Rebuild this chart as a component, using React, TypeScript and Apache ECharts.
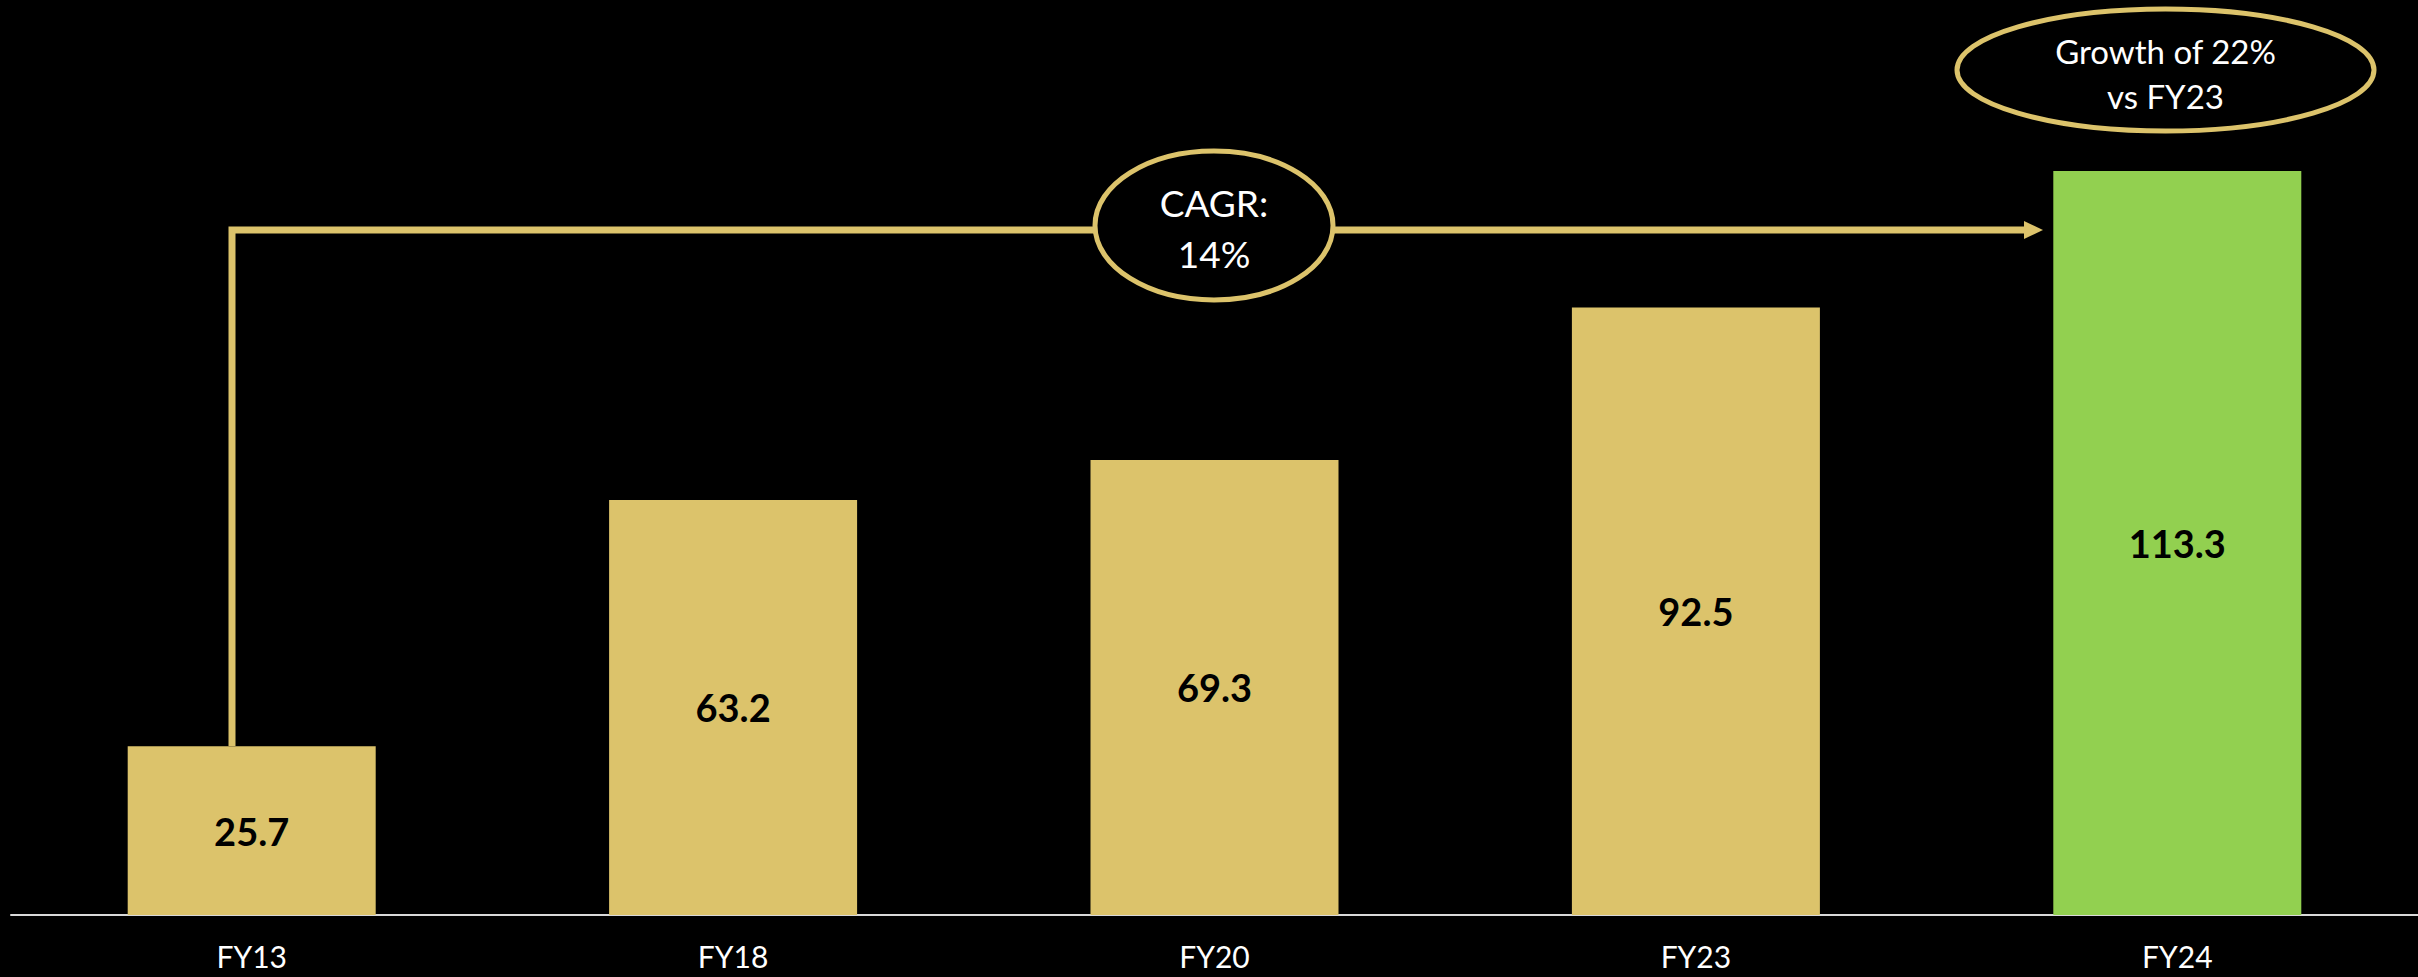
import React, { useEffect, useRef } from "react";
import * as echarts from "echarts";

const categories = ["FY13", "FY18", "FY20", "FY23", "FY24"];
const values = [25.7, 63.2, 69.3, 92.5, 113.3];
const barColors = ["#DCC36B", "#DCC36B", "#DCC36B", "#DCC36B", "#92D050"];
const cagrText = ["CAGR:", "14%"];
const growthText = ["Growth of 22%", "vs FY23"];

const GOLD = "#DCC36B";
const FONT = "Lato, 'Noto Sans', sans-serif";

export default function App() {
  const ref = useRef<HTMLDivElement>(null);
  useEffect(() => {
    document.body.style.margin = "0";
    document.body.style.background = "#000";
    const chart = echarts.init(ref.current!, null, { renderer: "svg" });
    chart.setOption({
      animation: false,
      backgroundColor: "#000",
      grid: { left: 11, top: 127, width: 2414, height: 788, containLabel: false },
      xAxis: {
        type: "category",
        data: categories,
        axisLine: { show: true, lineStyle: { color: "#D9D9D9", width: 2 } },
        axisTick: { show: false },
        axisLabel: {
          color: "#FFFFFF",
          fontSize: 30,
          lineHeight: 24,
          fontFamily: FONT,
          margin: 29,
        },
      },
      yAxis: {
        type: "value",
        min: 0,
        max: 120,
        show: false,
        splitLine: { show: false },
      },
      series: [
        {
          type: "bar",
          barWidth: 248,
          data: values.map((v, i) => ({ value: v, itemStyle: { color: barColors[i] } })),
          label: {
            show: true,
            position: "inside",
            color: "#000",
            fontWeight: "bold",
            fontSize: 38,
            fontFamily: FONT,
          },
        },
      ],
      graphic: [
        {
          type: "polyline",
          shape: { points: [[232, 746], [232, 230], [2026, 230]] },
          style: { stroke: GOLD, lineWidth: 7, fill: "none" },
          z: 10,
        },
        {
          type: "polygon",
          shape: { points: [[2024, 221], [2043, 230], [2024, 239]] },
          style: { fill: GOLD },
          z: 10,
        },
        {
          type: "ellipse",
          shape: { cx: 1214, cy: 225.5, rx: 119, ry: 74.5 },
          style: { fill: "#000", stroke: GOLD, lineWidth: 5 },
          z: 11,
        },
        {
          type: "text",
          x: 1214,
          y: 228,
          style: {
            text: cagrText.join("\n"),
            fill: "#FFFFFF",
            fontSize: 37,
            fontFamily: FONT,
            align: "center",
            verticalAlign: "middle",
            lineHeight: 51,
          },
          z: 12,
        },
        {
          type: "ellipse",
          shape: { cx: 2165.5, cy: 70, rx: 208.5, ry: 61 },
          style: { fill: "#000", stroke: GOLD, lineWidth: 5 },
          z: 11,
        },
        {
          type: "text",
          x: 2165.5,
          y: 73,
          style: {
            text: growthText.join("\n"),
            fill: "#FFFFFF",
            fontSize: 33,
            fontFamily: FONT,
            align: "center",
            verticalAlign: "middle",
            lineHeight: 45,
          },
          z: 12,
        },
      ],
    });
    return () => chart.dispose();
  }, []);
  return (
    <div
      ref={ref}
      style={{ position: "fixed", left: 0, top: 0, width: 2418, height: 977, background: "#000" }}
    />
  );
}
